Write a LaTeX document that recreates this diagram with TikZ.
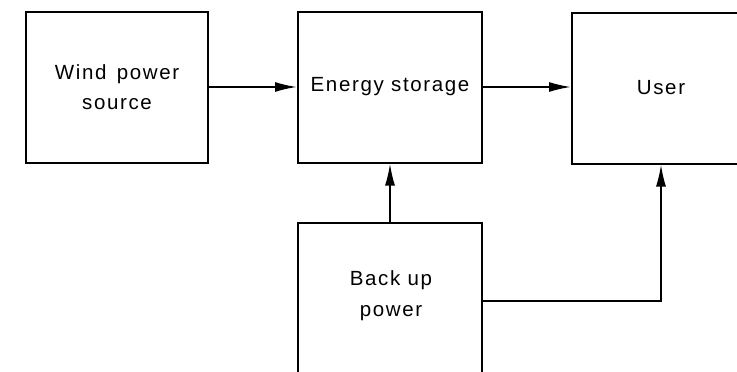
\documentclass[tikz,border=0pt]{standalone}
\usepackage{fontspec}
\setmainfont[LetterSpace=8]{Liberation Sans}
\usetikzlibrary{arrows.meta}
\begin{document}
\begin{tikzpicture}[x=1pt,y=-1pt,
  box/.style={draw, line width=2pt, inner sep=0pt, align=center, font=\fontsize{20.5}{30}\selectfont},
  lbl/.style={inner sep=0pt, align=center, font=\fontsize{20.5}{31}\selectfont},
  conn/.style={line width=1.8pt, -{Latex[length=22pt,width=10pt]}}]
\useasboundingbox (0,0) rectangle (737,372);
\clip (0,0) rectangle (737,372);
\node[box, minimum width=182pt, minimum height=151pt] (wind) at (117,87) {Wind\hspace{3pt} power\\source};
\node[box, minimum width=184pt, minimum height=151pt] (energy) at (390,87) {Energy storage};
\node[box, minimum width=178pt, minimum height=151pt] (user) at (661,88) {User};
\node[box, minimum width=184pt, minimum height=167pt] (backup) at (390,306.5) {};
\node[lbl] (backuptext) at (391,296) {Back up\\power};
\draw[conn] (wind.east) -- (wind.east -| energy.west);
\draw[conn] (energy.east) -- (energy.east -| user.west);
\draw[conn] (backup.north) -- (energy.south);
\draw[conn] (backup.east |- 0,301) -| (user.south);
\end{tikzpicture}
\end{document}
